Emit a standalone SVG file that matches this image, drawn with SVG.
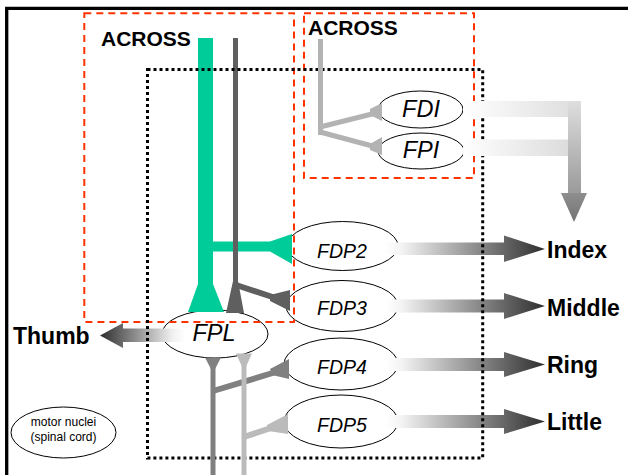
<svg xmlns="http://www.w3.org/2000/svg" width="628" height="475" viewBox="0 0 628 475">
<defs>
<style>
.lbl{font-family:"Liberation Sans",Arial,Helvetica,sans-serif;font-weight:bold;fill:#000}
.mus{font-family:"Liberation Sans",Arial,Helvetica,sans-serif;font-style:italic;fill:#000;text-anchor:middle}
.el{fill:none;stroke:#000;stroke-width:1}
.red{fill:none;stroke:#ff3300;stroke-width:2;stroke-dasharray:7 5}
.dot{fill:none;stroke:#000;stroke-width:3;stroke-dasharray:3 3}
</style>
<linearGradient id="fdpG" x1="0" y1="0" x2="1" y2="0">
<stop offset="0" stop-color="#fff"/>
<stop offset="0.1" stop-color="#f4f4f4"/>
<stop offset="1" stop-color="#2e2e2e"/>
</linearGradient>
<linearGradient id="thumbG" x1="1" y1="0" x2="0" y2="0">
<stop offset="0" stop-color="#fff"/>
<stop offset="0.15" stop-color="#f0f0f0"/>
<stop offset="1" stop-color="#2e2e2e"/>
</linearGradient>
<linearGradient id="barH" x1="0" y1="0" x2="1" y2="0">
<stop offset="0" stop-color="#fff"/>
<stop offset="1" stop-color="#dcdcdc"/>
</linearGradient>
<linearGradient id="barV" x1="0" y1="0" x2="0" y2="1">
<stop offset="0" stop-color="#dedede"/>
<stop offset="1" stop-color="#9a9a9a"/>
</linearGradient>
<linearGradient id="headV" x1="0" y1="0" x2="0" y2="1">
<stop offset="0" stop-color="#8e8e8e"/>
<stop offset="1" stop-color="#747474"/>
</linearGradient>
</defs>

<g id="frame">
<path d="M6.7 475 V8.3 H628" fill="none" stroke="#000" stroke-width="3.3"/>
</g>

<g id="nodes">
<g id="fdi"><ellipse class="el" cx="420.5" cy="109.5" rx="42.5" ry="18.5"/></g>
<g id="fpi"><ellipse class="el" cx="421" cy="151" rx="43" ry="18"/></g>
<g id="fdp2"><ellipse class="el" cx="342.5" cy="246" rx="55.5" ry="24.5"/></g>
<g id="fdp3"><ellipse class="el" cx="342" cy="306" rx="56" ry="25.5"/></g>
<g id="fdp4"><ellipse class="el" cx="341" cy="364" rx="57" ry="26"/></g>
<g id="fdp5"><ellipse class="el" cx="341" cy="421.5" rx="57" ry="26.5"/></g>
<g id="fpl"><ellipse class="el" cx="215" cy="334" rx="53" ry="24"/></g>
<g id="motor"><ellipse class="el" cx="63.5" cy="432.5" rx="52.5" ry="25.5"/></g>
</g>

<g id="regions">
<rect class="red" x="84.3" y="13.3" width="209.7" height="308.7"/>
<rect class="red" x="304" y="13.3" width="170" height="164.7"/>
</g>

<g id="connectors">
<!-- finger output arrows -->
<path fill="url(#fdpG)" d="M385 242.5 H504 V235.5 L545 249 L504 262 V255 H385 Z"/>
<path fill="url(#fdpG)" d="M385 299.5 H504 V293 L545 306 L504 319 V312.5 H385 Z"/>
<path fill="url(#fdpG)" d="M385 358 H504 V352 L545 364.5 L504 377 V371 H385 Z"/>
<path fill="url(#fdpG)" d="M385 415 H504 V409 L545 421.5 L504 434 V428 H385 Z"/>
<!-- thumb arrow -->
<path fill="url(#thumbG)" d="M185 328.5 H123 V323 L100 335.5 L123 348 V342 H185 Z"/>

<!-- green ACROSS path -->
<g fill="#00cc99">
<rect x="198" y="38" width="15" height="250"/>
<polygon points="198,284 213,284 224,312 188,312"/>
<rect x="212" y="241.5" width="60" height="10"/>
<polygon points="270,241.5 292,234 292,264 270,251.5"/>
</g>
<!-- dark gray ACROSS path -->
<g fill="#5f5f5f" stroke="none">
<rect x="233" y="38" width="5" height="250"/>
<polygon points="233,281 238,281 244,313 226,313"/>
<line x1="236" y1="285" x2="274" y2="297.5" stroke="#5f5f5f" stroke-width="6"/>
<polygon points="270,295 290,290 290,311 270,301"/>
</g>
</g>

<g id="core">
<rect class="dot" x="147.5" y="69.5" width="335.2" height="388.5"/>
</g>

<g id="connectors2">
<!-- lower dark gray -->
<g fill="#808080">
<rect x="210.5" y="362" width="5" height="113"/>
<polygon points="205,357.5 221,357.5 213,373"/>
<line x1="213" y1="391" x2="276" y2="372" stroke="#808080" stroke-width="6"/>
<polygon points="270,369 289,359 289,379 272,375"/>
</g>
<!-- lower light gray -->
<g fill="#bbbbbb">
<rect x="241.5" y="360" width="5" height="115"/>
<polygon points="236,353.5 252,353.5 244,371"/>
<line x1="244" y1="437" x2="271" y2="428" stroke="#bbbbbb" stroke-width="6"/>
<polygon points="267,425 288,414 288,434 268,431"/>
</g>
<!-- light gray ACROSS to FDI/FPI -->
<g fill="#b3b3b3">
<rect x="318" y="39" width="5" height="96"/>
<line x1="320" y1="127" x2="376" y2="113" stroke="#b3b3b3" stroke-width="5"/>
<line x1="320" y1="132" x2="376" y2="147" stroke="#b3b3b3" stroke-width="5"/>
<polygon points="370,109 382,103 382,121 370,115"/>
<polygon points="370,144 382,137 382,155 370,150"/>
</g>
<!-- FDI/FPI output -->
<rect x="463" y="101" width="118" height="16" fill="url(#barH)"/>
<rect x="463" y="139.5" width="106" height="16.5" fill="url(#barH)"/>
<rect x="568" y="101" width="13" height="93" fill="url(#barV)"/>
<polygon points="561,193 587,193 574,222" fill="url(#headV)"/>
</g>

<g id="labels">
<text class="lbl" x="101" y="45.5" font-size="21">ACROSS</text>
<text class="lbl" x="308" y="35" font-size="21">ACROSS</text>
<text class="mus" x="421" y="117" font-size="23.5">FDI</text>
<text class="mus" x="421" y="158" font-size="23.5">FPI</text>
<text class="mus" x="342" y="258" font-size="19.5">FDP2</text>
<text class="mus" x="342" y="315" font-size="19.5">FDP3</text>
<text class="mus" x="342" y="374" font-size="19.5">FDP4</text>
<text class="mus" x="342" y="431.5" font-size="19.5">FDP5</text>
<text class="mus" x="214" y="341" font-size="23.5">FPL</text>
<text class="lbl" x="13" y="344" font-size="23">Thumb</text>
<text class="lbl" x="547" y="258" font-size="23">Index</text>
<text class="lbl" x="547" y="316" font-size="23">Middle</text>
<text class="lbl" x="547" y="373" font-size="23">Ring</text>
<text class="lbl" x="547" y="430" font-size="23">Little</text>
<text x="63.5" y="425.7" font-size="12" font-family="'Liberation Sans',Arial,sans-serif" text-anchor="middle">motor nuclei</text>
<text x="63.5" y="440.7" font-size="12" font-family="'Liberation Sans',Arial,sans-serif" text-anchor="middle">(spinal cord)</text>
</g>
</svg>
